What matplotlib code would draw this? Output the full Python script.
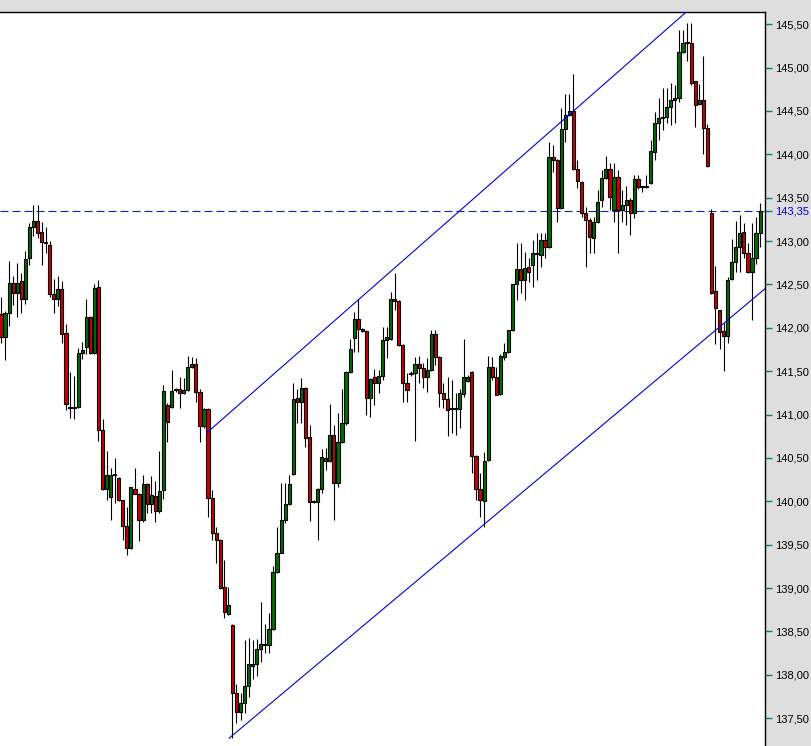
#!/usr/bin/env python3
"""Candlestick chart with a rising channel and the last-price marker."""
import matplotlib
matplotlib.use("Agg")
import matplotlib.pyplot as plt
import numpy as np

# ---------------------------------------------------------------------------
# Data, one entry per bar
# ---------------------------------------------------------------------------
opens = [
    142.16, 141.89, 142.17, 142.52, 142.40, 142.54, 142.33, 142.80, 143.16, 143.23,
    143.10, 142.99, 142.96, 142.39, 142.33, 142.45, 141.94, 141.09, 141.08, 141.09,
    141.71, 141.78, 142.13, 141.71, 142.47, 140.82, 140.14, 140.05, 140.30, 140.27,
    140.01, 139.71, 139.46, 140.14, 140.09, 139.78, 140.20, 139.97, 140.06, 139.89,
    140.13, 141.11, 141.09, 141.28, 141.29, 141.25, 141.28, 141.55, 141.58, 141.26,
    140.87, 141.06, 140.04, 139.63, 139.56, 139.01, 138.70, 138.58, 137.79, 137.57,
    137.67, 137.87, 138.10, 138.13, 138.30, 138.36, 138.34, 138.53, 139.18, 139.41,
    139.78, 139.97, 140.31, 141.19, 141.14, 141.31, 140.74, 139.99, 139.99, 140.14,
    140.50, 140.47, 140.76, 140.21, 140.68, 140.90, 141.49, 141.88, 142.10, 141.99,
    141.96, 141.19, 141.43, 141.36, 141.45, 141.86, 141.87, 142.33, 142.31, 141.80,
    141.36, 141.47, 141.48, 141.58, 141.54, 141.43, 141.51, 141.93, 141.66, 141.25,
    141.18, 141.06, 141.06, 141.06, 141.24, 141.39, 141.49, 140.52, 140.14, 140.00,
    140.48, 141.55, 141.43, 141.24, 141.66, 141.72, 141.97, 142.51, 142.68, 142.55,
    142.70, 142.72, 142.86, 142.84, 143.01, 142.93, 143.97, 143.93, 143.38, 144.29,
    144.45, 144.50, 143.83, 143.68, 143.32, 143.24, 143.04, 143.22, 143.47, 143.73,
    143.83, 143.36, 143.74, 143.36, 143.41, 143.47, 143.32, 143.71, 143.62, 143.62,
    143.67, 144.03, 144.36, 144.42, 144.43, 144.54, 144.63, 144.65, 145.18, 145.28,
    145.28, 144.84, 144.58, 144.63, 144.30, 143.32, 142.43, 142.20, 141.96, 141.91,
    142.56, 142.76, 142.93, 143.10, 142.86, 142.64, 142.81, 143.09,
]
highs = [
    142.36, 142.19, 142.77, 142.60, 142.75, 142.63, 142.88, 143.21, 143.41, 143.41,
    143.22, 143.16, 143.00, 142.56, 142.60, 142.54, 142.04, 141.49, 141.44, 141.77,
    141.84, 142.33, 142.14, 142.50, 142.55, 140.95, 140.58, 140.38, 140.50, 140.28,
    140.01, 139.94, 140.17, 140.38, 140.10, 140.30, 140.21, 140.29, 140.24, 140.58,
    141.34, 141.13, 141.51, 141.31, 141.43, 141.42, 141.67, 141.66, 141.65, 141.30,
    141.08, 141.07, 140.13, 139.70, 139.57, 139.32, 139.01, 138.59, 137.90, 137.79,
    138.40, 138.43, 138.40, 138.41, 138.84, 138.59, 138.71, 139.25, 139.70, 140.21,
    140.21, 140.30, 141.36, 141.30, 141.42, 141.32, 140.88, 140.01, 140.15, 140.60,
    140.61, 141.12, 140.88, 141.02, 141.30, 141.50, 141.87, 142.18, 142.33, 142.00,
    141.97, 141.42, 141.53, 141.51, 142.01, 142.01, 142.41, 142.63, 142.32, 141.81,
    141.48, 141.50, 141.66, 141.68, 141.60, 141.65, 141.97, 141.97, 141.67, 141.36,
    141.43, 141.40, 141.25, 141.30, 141.87, 141.46, 141.50, 140.53, 140.33, 140.57,
    141.67, 141.66, 141.55, 141.70, 141.82, 141.98, 142.51, 142.98, 142.98, 142.87,
    142.81, 143.01, 143.09, 143.09, 143.09, 144.14, 144.11, 143.94, 144.53, 144.69,
    144.69, 144.92, 143.93, 143.69, 143.39, 143.26, 143.28, 143.59, 143.82, 143.98,
    143.90, 143.90, 143.82, 143.59, 143.64, 143.50, 143.76, 143.76, 143.64, 143.76,
    144.16, 144.49, 144.65, 144.76, 144.76, 144.82, 144.80, 145.43, 145.43, 145.51,
    145.51, 144.85, 144.81, 145.13, 144.35, 143.37, 142.71, 142.21, 142.06, 142.59,
    143.02, 143.23, 143.30, 143.21, 142.98, 143.21, 143.28, 143.44,
]
lows = [
    141.83, 141.63, 142.02, 142.26, 142.12, 142.17, 142.28, 142.72, 143.06, 143.04,
    142.72, 142.86, 142.35, 142.17, 142.25, 141.82, 141.05, 140.96, 140.95, 141.07,
    141.64, 141.70, 141.70, 141.70, 140.69, 140.13, 140.01, 139.78, 139.98, 140.00,
    139.56, 139.38, 139.45, 140.08, 139.54, 139.76, 139.86, 139.86, 139.76, 139.87,
    140.03, 140.68, 141.08, 141.26, 141.07, 141.24, 141.27, 141.54, 141.15, 140.68,
    140.85, 139.82, 139.55, 139.29, 138.99, 138.66, 138.69, 137.27, 137.44, 137.48,
    137.56, 137.74, 137.95, 137.99, 138.15, 138.25, 138.25, 138.52, 139.17, 139.40,
    139.75, 139.96, 140.30, 140.90, 140.90, 140.63, 139.77, 139.98, 139.55, 140.10,
    140.36, 140.45, 139.78, 140.16, 140.67, 140.88, 141.48, 141.72, 141.72, 141.95,
    140.99, 140.97, 141.11, 141.25, 141.40, 141.65, 141.86, 142.20, 141.79, 141.14,
    141.14, 141.45, 140.70, 141.36, 141.31, 141.26, 141.50, 141.57, 141.09, 141.07,
    140.75, 140.79, 140.76, 140.85, 141.20, 141.38, 140.33, 140.01, 139.82, 139.70,
    140.47, 141.40, 141.22, 141.22, 141.63, 141.71, 141.96, 142.32, 142.40, 142.32,
    142.53, 142.47, 142.55, 142.70, 142.80, 142.92, 143.80, 143.22, 143.37, 144.14,
    144.44, 143.82, 143.61, 143.28, 142.70, 142.86, 142.86, 143.21, 143.39, 143.72,
    143.36, 143.22, 142.86, 143.22, 143.18, 143.07, 143.26, 143.60, 143.56, 143.61,
    143.66, 143.93, 144.16, 144.28, 144.36, 144.34, 144.36, 144.60, 145.17, 145.08,
    144.80, 144.31, 144.57, 144.00, 143.85, 142.39, 141.81, 141.76, 141.50, 141.83,
    142.55, 142.64, 142.64, 142.80, 142.63, 142.09, 142.74, 142.93,
]
closes = [
    141.89, 142.17, 142.52, 142.40, 142.52, 142.33, 142.79, 143.16, 143.23, 143.09,
    142.99, 142.98, 142.39, 142.33, 142.45, 141.93, 141.12, 141.08, 141.09, 141.71,
    141.75, 142.13, 141.71, 142.46, 140.82, 140.14, 140.30, 140.30, 140.31, 140.01,
    139.71, 139.46, 140.16, 140.09, 139.78, 140.20, 139.97, 140.07, 139.89, 140.12,
    141.27, 140.91, 141.27, 141.28, 141.25, 141.28, 141.55, 141.58, 141.26, 140.87,
    141.06, 140.04, 139.63, 139.56, 139.00, 138.72, 138.81, 137.79, 137.57, 137.68,
    137.87, 138.12, 138.13, 138.30, 138.36, 138.34, 138.53, 139.18, 139.41, 139.78,
    139.97, 140.20, 141.18, 141.14, 141.31, 140.73, 139.99, 140.00, 140.14, 140.51,
    140.46, 140.76, 140.21, 140.68, 140.90, 141.49, 141.76, 142.10, 141.99, 141.96,
    141.19, 141.41, 141.36, 141.45, 141.86, 141.89, 142.33, 142.31, 141.80, 141.36,
    141.28, 141.48, 141.58, 141.54, 141.43, 141.51, 141.93, 141.66, 141.25, 141.18,
    141.05, 141.06, 141.07, 141.25, 141.43, 141.43, 140.52, 140.14, 140.01, 140.46,
    141.55, 141.43, 141.23, 141.68, 141.72, 141.97, 142.50, 142.68, 142.55, 142.69,
    142.64, 142.86, 142.85, 143.01, 142.93, 143.97, 143.93, 143.38, 144.29, 144.45,
    144.50, 143.83, 143.69, 143.32, 143.24, 143.05, 143.22, 143.45, 143.73, 143.83,
    143.51, 143.74, 143.36, 143.41, 143.47, 143.32, 143.71, 143.62, 143.62, 143.64,
    144.04, 144.36, 144.42, 144.43, 144.54, 144.63, 144.65, 145.18, 145.28, 145.28,
    144.82, 144.57, 144.63, 144.30, 143.86, 142.40, 142.23, 141.95, 141.91, 142.55,
    142.76, 142.93, 143.09, 142.86, 142.64, 142.81, 143.09, 143.35,
]

# trend channel drawn on the chart (bar index, price)
channel_upper_x = [50.7, 168.8]
channel_upper_y = [140.79, 145.64]
channel_lower_x = [56.2, 188.2]
channel_lower_y = [137.27, 142.45]

last_price = 143.35
price_ticks = [137.5, 138.0, 138.5, 139.0, 139.5, 140.0, 140.5, 141.0,
               141.5, 142.0, 142.5, 143.0, 143.5, 144.0, 144.5, 145.0, 145.5]

GREEN = "#006e00"
RED = "#c80000"
BLUE = "#0000e0"
TICK_COL = "#008080"


def fmt_price(v):
    return f"{v:.2f}".replace(".", ",")


def draw_candles(ax, o, h, l, c, width=0.78):
    o, h, l, c = map(np.asarray, (o, h, l, c))
    x = np.arange(len(o))
    top = np.maximum(o, c)
    bot = np.minimum(o, c)
    # wicks first, bodies on top
    ax.vlines(x, np.minimum(l, bot), np.maximum(h, top),
              color="black", linewidth=0.8, zorder=2)
    colours = np.where(c > o, GREEN, np.where(c < o, RED, "black"))
    heights = np.maximum(top - bot, 0.012)
    ax.bar(x, heights, bottom=bot, width=width, color=colours,
           edgecolor="black", linewidth=0.8, zorder=3)


def main():
    plt.rcParams.update({
        "font.family": ["Liberation Sans", "DejaVu Sans"],
        "font.size": 8,
    })
    fig = plt.figure(figsize=(8.11, 7.46), dpi=100)
    fig.patch.set_facecolor("#dedede")
    ax = fig.add_axes([0.0, 0.0, 765 / 811, 734 / 746])
    ax.set_facecolor("white")

    draw_candles(ax, opens, highs, lows, closes)

    ax.plot(channel_upper_x, channel_upper_y, color=BLUE, linewidth=0.8, zorder=4)
    ax.plot(channel_lower_x, channel_lower_y, color=BLUE, linewidth=0.8, zorder=4)
    ax.axhline(last_price, color="#1020c0", linewidth=0.8,
               linestyle=(0, (7.2, 3.6)), zorder=1)

    ax.set_xlim(-0.25, 188.2)
    ax.set_ylim(137.18, 145.64)

    ticks = price_ticks + [last_price]
    ax.yaxis.tick_right()
    ax.set_yticks(ticks)
    ax.set_yticklabels([fmt_price(t) for t in ticks])
    ax.get_yticklabels()[-1].set_color(BLUE)
    ax.tick_params(axis="y", direction="out", length=5, width=1,
                   color=TICK_COL, labelsize=8, pad=2)
    ax.set_xticks([])

    for side in ("left", "bottom"):
        ax.spines[side].set_visible(False)
    for side in ("top", "right"):
        ax.spines[side].set_color("black")
        ax.spines[side].set_linewidth(1.0)

    fig.savefig("out.png", dpi=100, facecolor=fig.get_facecolor())
    plt.close(fig)


if __name__ == "__main__":
    main()
